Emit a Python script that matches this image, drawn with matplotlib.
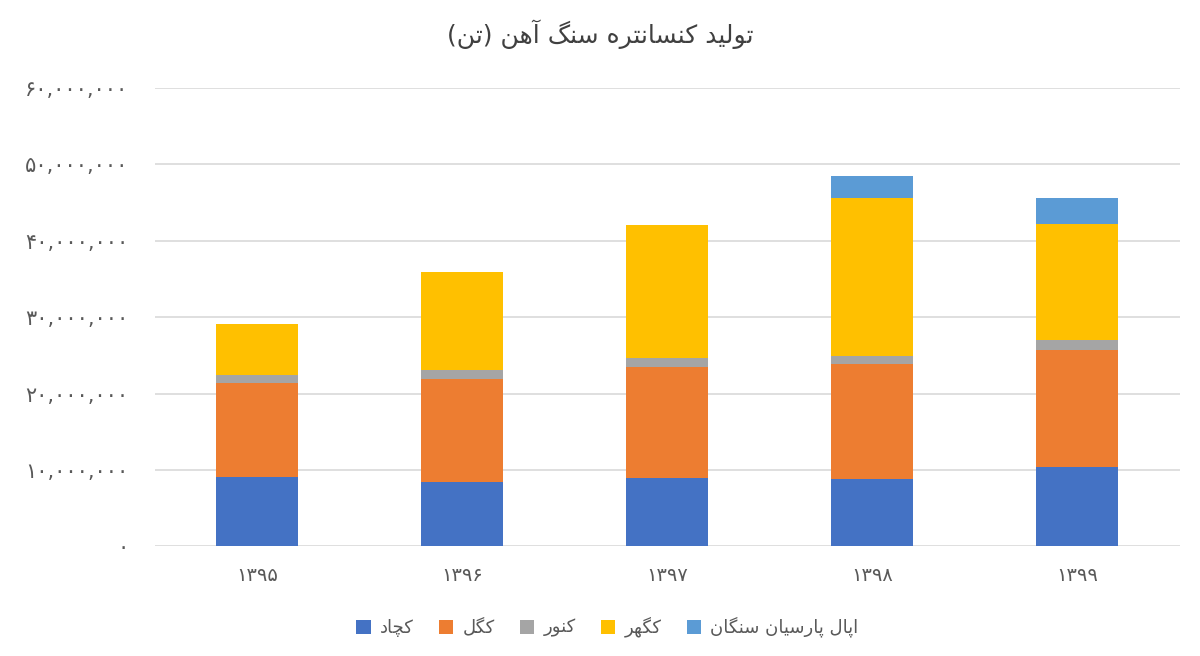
import numpy as np
import matplotlib
matplotlib.use('Agg')
import matplotlib.pyplot as plt

years = ['1395', '1396', '1397', '1398', '1399']
series = ['کچاد', 'کگل', 'کنور', 'کگهر', 'اپال پارسیان سنگان']
chadormalu = [9.14, 8.44, 8.93, 8.80, 10.40]
golgohar = [12.25, 13.48, 14.60, 15.10, 15.35]
markazi = [1.10, 1.18, 1.14, 1.00, 1.28]
goharzamin = [6.60, 12.87, 17.41, 20.70, 15.20]
apal = [0.0, 0.0, 0.0, 2.90, 3.30]
colors = ['#4472C4', '#ED7D31', '#A5A5A5', '#FFC000', '#5B9BD5']
title = 'تولید کنسانتره سنگ آهن (تن)'

# presentation forms: isolated, final, initial, medial
FORMS = {
    'ا': (0xFE8D, 0xFE8E, None, None),
    'آ': (0xFE81, 0xFE82, None, None),
    'د': (0xFEA9, 0xFEAA, None, None),
    'ر': (0xFEAD, 0xFEAE, None, None),
    'و': (0xFEED, 0xFEEE, None, None),
    'ت': (0xFE95, 0xFE96, 0xFE97, 0xFE98),
    'س': (0xFEB1, 0xFEB2, 0xFEB3, 0xFEB4),
    'ل': (0xFEDD, 0xFEDE, 0xFEDF, 0xFEE0),
    'ن': (0xFEE5, 0xFEE6, 0xFEE7, 0xFEE8),
    'ه': (0xFEE9, 0xFEEA, 0xFEEB, 0xFEEC),
    'ی': (0xFBFC, 0xFBFD, 0xFBFE, 0xFBFF),
    'ک': (0xFB8E, 0xFB8F, 0xFB90, 0xFB91),
    'گ': (0xFB92, 0xFB93, 0xFB94, 0xFB95),
    'چ': (0xFB7A, 0xFB7B, 0xFB7C, 0xFB7D),
    'پ': (0xFB56, 0xFB57, 0xFB58, 0xFB59),
}


def shape(s):
    out = []
    for i, c in enumerate(s):
        if c not in FORMS:
            out.append(c)
            continue
        f = FORMS[c]
        prev = s[i - 1] if i > 0 else ''
        nxt = s[i + 1] if i + 1 < len(s) else ''
        join_prev = prev in FORMS and FORMS[prev][2] is not None
        join_next = nxt in FORMS and f[2] is not None
        if join_prev and join_next:
            code = f[3]
        elif join_prev:
            code = f[1]
        elif join_next:
            code = f[2]
        else:
            code = f[0]
        out.append(chr(code))
    vis = ''.join(reversed(out))
    return vis.translate(str.maketrans('()', ')('))


def fa_digits(s):
    return s.translate(str.maketrans('0123456789', '۰۱۲۳۴۵۶۷۸۹'))


plt.rcParams['font.family'] = ['DejaVu Sans']
text_col = '#595959'

fig = plt.figure(figsize=(12, 6.56), dpi=100)
ax = fig.add_axes([0.129, 0.167, 0.854, 0.699])

data = np.array([chadormalu, golgohar, markazi, goharzamin, apal]) * 1e6
x = np.arange(len(years))
bottom = np.zeros(len(years))
handles = []
for vals, col, name in zip(data, colors, series):
    b = ax.bar(x, vals, 0.4, bottom=bottom, color=col, label=shape(name), zorder=3)
    handles.append(b)
    bottom += vals

ax.set_xlim(-0.5, 4.5)
ax.set_ylim(0, 60e6)
yt = np.arange(0, 60e6 + 1, 10e6)
ax.set_yticks(yt)
ax.set_yticklabels([fa_digits(f'{int(v):,}') for v in yt])
ax.set_xticks(x)
ax.set_xticklabels([fa_digits(y) for y in years])
ax.tick_params(axis='y', length=0, pad=19, labelsize=15, labelcolor=text_col)
ax.tick_params(axis='x', length=0, pad=14, labelsize=14, labelcolor=text_col)
ax.grid(axis='y', color='#D9D9D9', linewidth=1.2, zorder=0)
for sp in ax.spines.values():
    sp.set_visible(False)

fig.text(0.5, 0.948, shape(title), ha='center', va='center', fontsize=18, color='#404040')
fig.legend(handles=handles, loc='center', bbox_to_anchor=(0.506, 0.044), ncol=5,
           frameon=False, fontsize=13, handlelength=0.8, handleheight=0.8,
           handletextpad=0.5, columnspacing=1.4, labelcolor=text_col)

fig.savefig('out.png', dpi=100)
